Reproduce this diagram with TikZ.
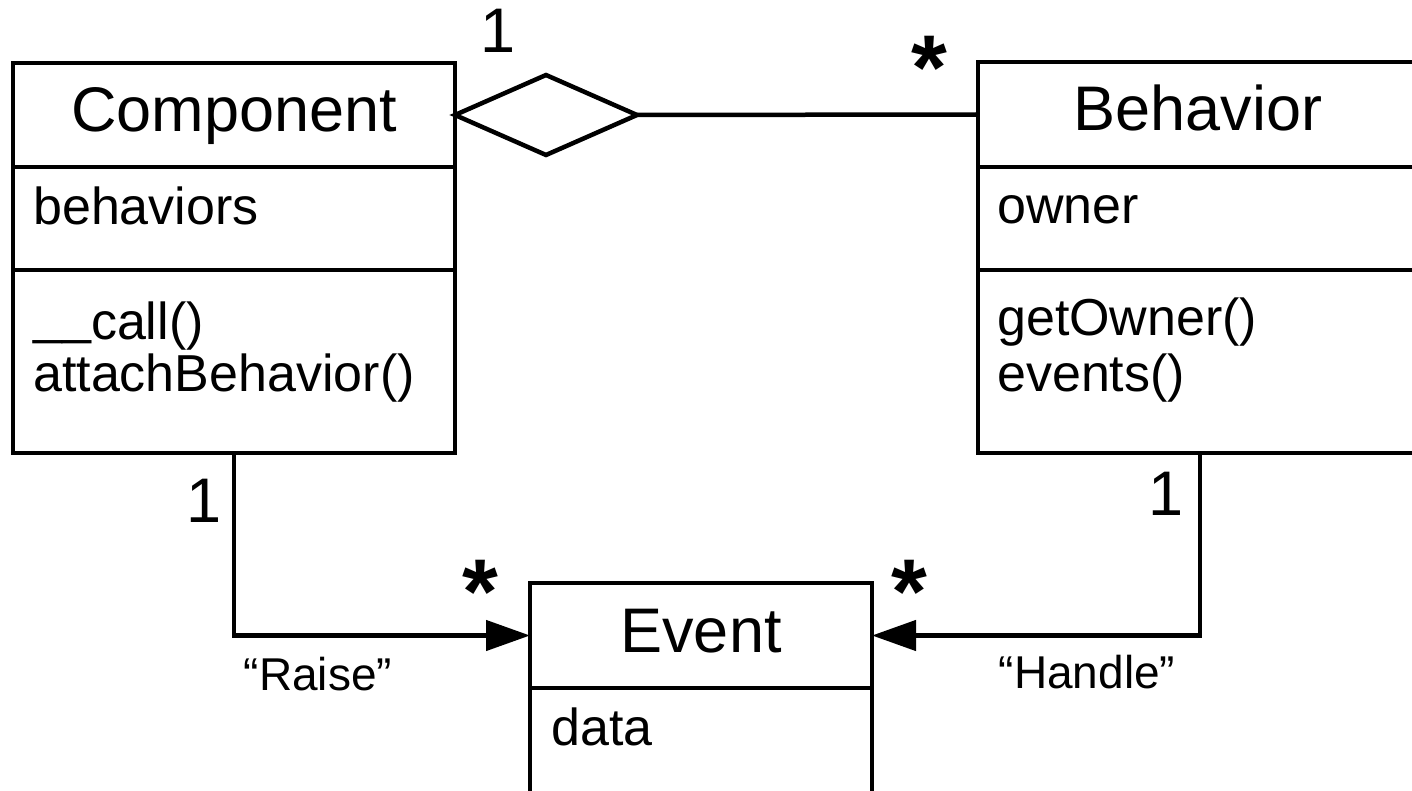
\documentclass[tikz,border=0pt]{standalone}
\usepackage{fontspec}
\setmainfont{Liberation Sans}
\usetikzlibrary{arrows.meta,calc}
\begin{document}
\begin{tikzpicture}[x=1pt,y=-1pt,
  box/.style={draw, line width=4.5pt, rectangle, inner sep=0pt, outer sep=0pt},
  titlef/.style={font=\fontsize{63}{70}\selectfont, text height=46pt, text depth=13pt},
  member/.style={font=\fontsize{52}{60}\selectfont, anchor=base west, inner sep=0pt},
  mult/.style={font=\fontsize{63}{70}\selectfont, anchor=base, inner sep=0pt},
  star/.style={font=\bfseries\fontsize{92}{100}\selectfont, anchor=base, inner sep=0pt},
  lbl/.style={font=\fontsize{46}{54}\selectfont, anchor=base, inner sep=0pt},
  conn/.style={line width=4.5pt},
  tip/.style={-{Triangle[length=44pt,width=30pt]}}
]
\useasboundingbox (0,0) rectangle (1412,791);
\clip (0,0) rectangle (1412,791);

% Component
\node[box, titlef, minimum width=442pt, minimum height=104pt] (comp) at (234,115) {Component};
\node[box, minimum width=442pt, minimum height=103pt] (compattr) at (234,218.5) {};
\node[box, minimum width=442pt, minimum height=183pt] (compops) at (234,361.5) {};
\node[member] (t1) at (33,225) {behaviors};
\node[member] (t2) at (33,339) {\raisebox{6pt}{\_\_}call()};
\node[member] (t3) at (33,391) {attachBehavior()};

% Behavior
\node[box, titlef, minimum width=440pt, minimum height=105pt] (beh) at (1198,114.5) {Behavior};
\node[box, minimum width=440pt, minimum height=103pt] (behattr) at (1198,218.5) {};
\node[box, minimum width=440pt, minimum height=183pt] (behops) at (1198,361.5) {};
\node[member] (t4) at (997,224) {owner};
\node[member] (t5) at (997,335) {getOwner()};
\node[member] (t6) at (997,391) {events()};

% Event
\node[box, titlef, minimum width=342pt, minimum height=105pt] (evt) at (701,635.5) {Event};
\node[box, minimum width=342pt, minimum height=130pt] (evtattr) at (701,753) {};
\node[member] (t7) at (551,745) {data};

% Aggregation
\draw[conn, line join=miter] (comp.east) -- ++(91,-40) -- ++(91,40) coordinate (agg) -- ++(-91,40) -- cycle;
\draw[conn] (agg) -- (beh.west);

% Associations
\draw[conn, tip] (compops.south) |- (evt.west);
\draw[conn, tip] ($(behops.south)+(2,0)$) |- (evt.east);

% Multiplicities and labels
\node[mult] (m1) at (498,53) {1};
\node[star] (s1) at (929,100) {*};
\node[mult] (m2) at (204,522) {1};
\node[star] (s2) at (480,623) {*};
\node[mult] (m3) at (1166,515) {1};
\node[star] (s3) at (909,623) {*};
\node[lbl] (l1) at (318,690) {“Raise”};
\node[lbl] (l2) at (1087,688) {“Handle”};
\end{tikzpicture}
\end{document}
